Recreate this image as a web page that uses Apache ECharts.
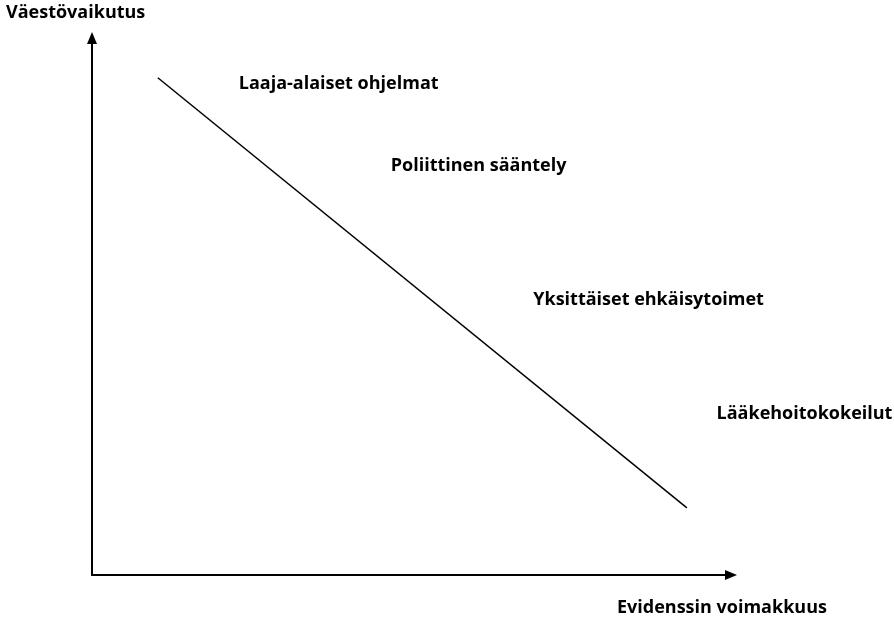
<!DOCTYPE html>
<html>
<head>
<meta charset="utf-8">
<script src="https://cdn.jsdelivr.net/npm/echarts@6/dist/echarts.min.js"></script>
<style>
	html, body { margin: 0; padding: 0; background: #fff; }
	#chart { width: 894px; height: 625px; }
</style>
</head>
<body>
<div id="chart"></div>
<script>
var yName = 'Väestövaikutus';
var xName = 'Evidenssin voimakkuus';

// diagonal line, data units (0-100 on both axes)
var lineX = [10.3, 93.1];
var lineY = [92.6, 12.5];

// category labels and where they sit
var labelNames = ['Laaja-alaiset ohjelmat', 'Poliittinen sääntely', 'Yksittäiset ehkäisytoimet', 'Lääkehoitokokeilut'];
var labelX = [38.6, 60.5, 87.1, 111.5];
var labelY = [91.4, 76.2, 51.2, 30.0];

var font = '"Open Sans", "DejaVu Sans", sans-serif';

var chart = echarts.init(document.getElementById('chart'));

var lineData = [];
for (var i = 0; i < lineX.length; i++) {
	lineData.push([lineX[i], lineY[i]]);
}
var labelData = [];
for (var j = 0; j < labelNames.length; j++) {
	labelData.push({ name: labelNames[j], value: [labelX[j], labelY[j]] });
}

var axisCommon = {
	type: 'value',
	min: 0,
	max: 100,
	splitLine: { show: false },
	axisTick: { show: false },
	axisLabel: { show: false },
	axisLine: {
		show: true,
		symbol: ['none', 'triangle'],
		symbolSize: [10, 12],
		lineStyle: { color: '#000', width: 2 }
	}
};

var option = {
	backgroundColor: '#fff',
	animation: false,
	title: [{
		text: yName,
		left: 6,
		top: 4,
		padding: 0,
		textStyle: { fontFamily: font, fontWeight: 'bold', fontSize: 18, color: '#000' }
	}, {
		text: xName,
		left: 617,
		top: 599,
		padding: 0,
		textStyle: { fontFamily: font, fontWeight: 'bold', fontSize: 18, color: '#000' }
	}],
	grid: { left: 92, right: 163, top: 38, bottom: 50 },
	xAxis: axisCommon,
	yAxis: axisCommon,
	series: [{
		type: 'line',
		data: lineData,
		symbol: 'none',
		lineStyle: { color: '#000', width: 1.5 }
	}, {
		type: 'scatter',
		data: labelData,
		symbolSize: 0,
		clip: false,
		itemStyle: { opacity: 1 },
		label: {
			show: true,
			position: 'inside',
			formatter: '{b}',
			fontFamily: font,
			fontWeight: 'bold',
			fontSize: 18,
			color: '#000',
			textBorderWidth: 0
		}
	}]
};

chart.setOption(option);
</script>
</body>
</html>
